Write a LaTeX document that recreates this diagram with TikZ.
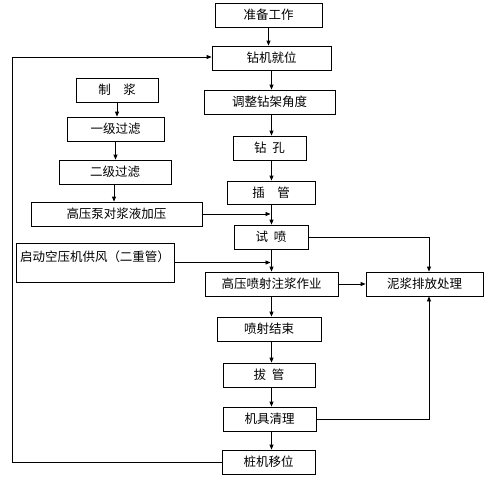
\documentclass[tikz,border=0pt]{standalone}
\usepackage{fontspec}
\newfontfamily\cjk{Noto Sans CJK SC}
\usetikzlibrary{arrows.meta,calc}
\begin{document}
\begin{tikzpicture}[x=1pt,y=-1pt,
  box/.style={draw,line width=0.8pt,inner sep=0pt,minimum height=24pt,font=\cjk\fontsize{12.5}{14}\selectfont},
  arr/.style={line width=0.8pt,-{Triangle[length=5pt,width=4pt]}},
  ln/.style={line width=0.8pt}]
\useasboundingbox[fill=white] (0,0) rectangle (488,480);
% main column
\node[box,minimum width=107pt] (prep) at (268.5,15) {准备工作};
\node[box,minimum width=119pt] (pos) at (271.5,58) {钻机就位};
\node[box,minimum width=131pt] (adj) at (269.5,102) {调整钻架角度};
\node[box,minimum width=73pt] (drill) at (269.5,148) {钻\hspace{0.45em}孔};
\node[box,minimum width=88pt,minimum height=23pt] (pipe) at (271,192.5) {插　管};
\node[box,minimum width=74pt] (test) at (271,237) {试\hspace{0.45em}喷};
\node[box,minimum width=133pt] (jet) at (271.5,284) {高压喷射注浆作业};
\node[box,minimum width=117pt] (mud) at (424.5,284) {泥浆排放处理};
\node[box,minimum width=104pt] (end) at (269,329) {喷射结束};
\node[box,minimum width=92pt] (pull) at (269,375) {拔\hspace{0.45em}管};
\node[box,minimum width=93pt] (clean) at (269.5,419) {机具清理};
\node[box,minimum width=93pt] (move) at (268.5,462) {桩机移位};
% left column
\node[box,minimum width=82pt] (mix) at (117,90) {制　浆};
\node[box,minimum width=97pt] (f1) at (115.5,129) {一级过滤};
\node[box,minimum width=112pt] (f2) at (115,172) {二级过滤};
\node[box,minimum width=171pt] (pump) at (116.5,214) {高压泵对浆液加压};
\node[box,minimum width=158pt,minimum height=39pt,inner ysep=2pt,text height=16pt,text depth=19pt] (air) at (95,262.5) {启动空压机供风（二重管）};
% spine coordinates
\coordinate (sp) at (271.5,0);
\coordinate (mx) at (429,0);
\coordinate (lx) at (12,0);
% main connectors
\draw[arr] (prep) -- (prep |- pos.north);
\draw[arr] (pos) -- (pos |- adj.north);
\draw[arr] (sp |- adj.south) -- (sp |- drill.north);
\draw[arr] (sp |- drill.south) -- (sp |- pipe.north);
\draw[arr] (sp |- pipe.south) -- (sp |- test.north);
\draw[arr] (sp |- test.south) -- (sp |- jet.north);
\draw[arr] (sp |- jet.south) -- (sp |- end.north);
\draw[arr] (sp |- end.south) -- (sp |- pull.north);
\draw[arr] (sp |- pull.south) -- (sp |- clean.north);
\draw[arr] (sp |- clean.south) -- (sp |- move.north);
% left connectors
\draw[arr] (mix) -- (mix |- f1.north);
\draw[arr] (f1) -- (f1 |- f2.north);
\draw[arr] (f2.south -| 114,0) -- (114,0 |- pump.north);
\draw[arr] (pump.east) -- ($(pump.east -| sp)+(-1,0)$);
\draw[arr] (air.east) -- ($(air.east -| sp)+(-1,0)$);
% mud connectors
\draw[arr] (test.east) -| (mx |- mud.north);
\draw[arr] (jet.east) -- (mud.west);
\draw[arr] (clean.east) -| (mx |- mud.south);
% loop back
\draw[arr] (move.west) -- (lx |- move.west) -- (lx |- 0,57) -- (pos.west |- 0,57);
\end{tikzpicture}
\end{document}
